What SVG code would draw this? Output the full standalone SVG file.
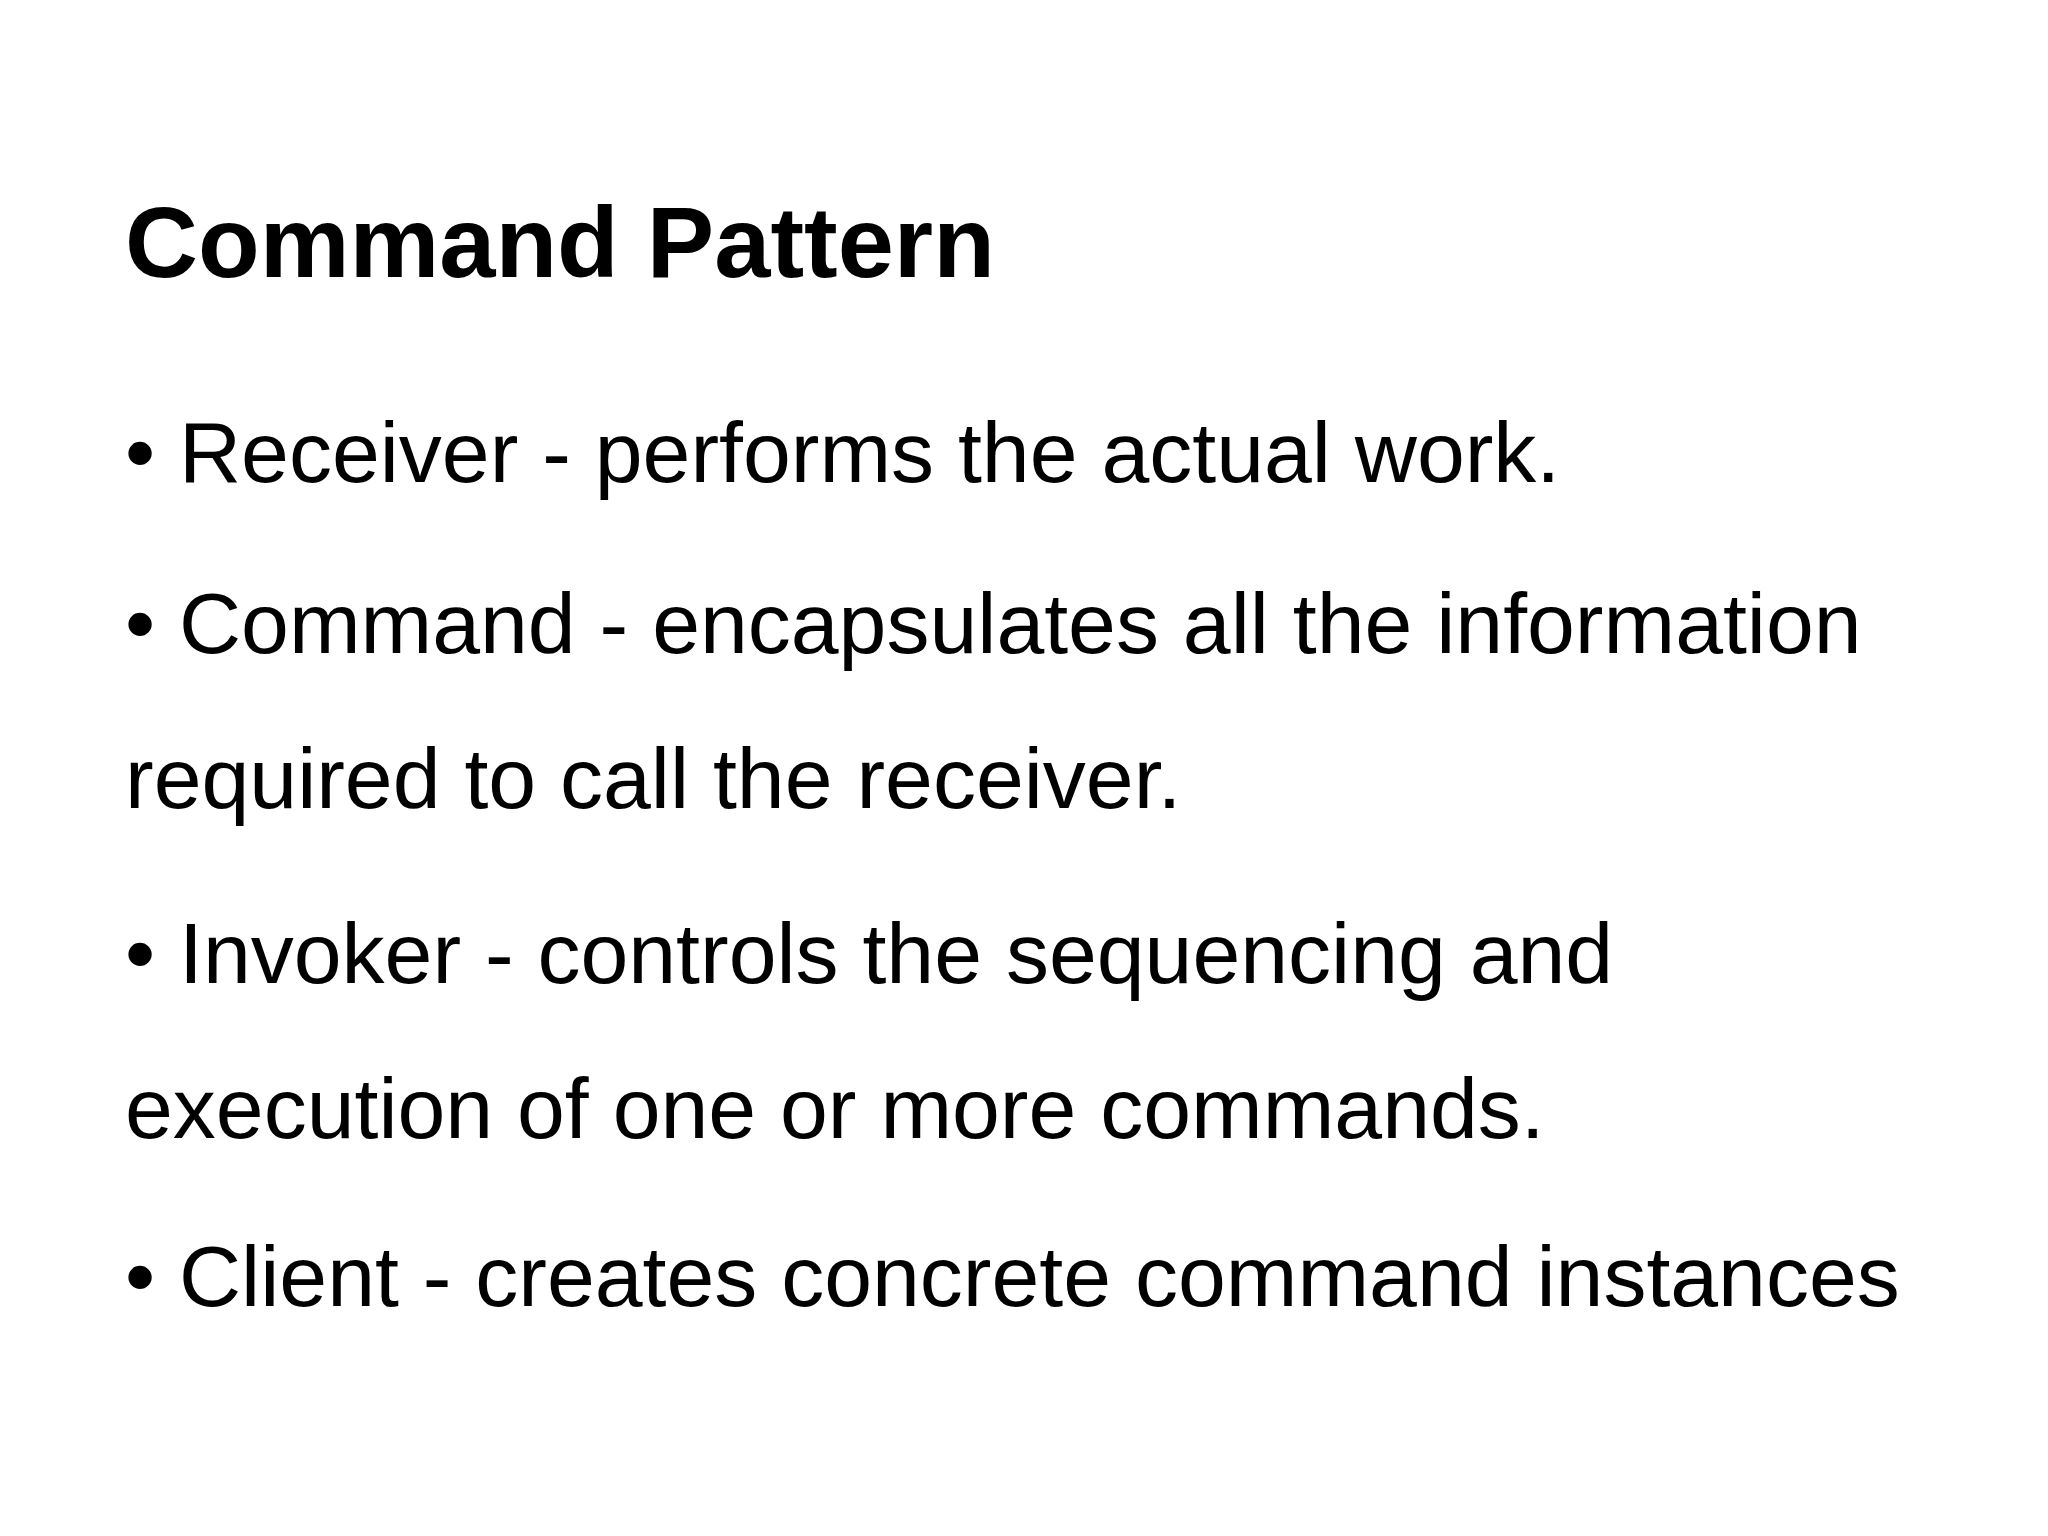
<svg xmlns="http://www.w3.org/2000/svg" width="2048" height="1536" viewBox="0 0 2048 1536">
<style>
.t{font-family:"Liberation Sans",Arial,sans-serif;font-weight:bold;font-size:101px;fill:#000}
.b{font-family:"Liberation Sans",Arial,sans-serif;font-size:86px;fill:#000}
</style>
<rect width="2048" height="1536" fill="#fff"/>
<text class="t" x="125" y="277">Command Pattern</text>
<text class="b" x="125" y="482">• Receiver - performs the actual work.</text>
<text class="b" x="125" y="653">• Command - encapsulates all the information</text>
<text class="b" x="125" y="808">required to call the receiver.</text>
<text class="b" x="125" y="983">• Invoker - controls the sequencing and</text>
<text class="b" x="125" y="1138">execution of one or more commands.</text>
<text class="b" x="125" y="1306">• Client - creates concrete command instances</text>
</svg>
